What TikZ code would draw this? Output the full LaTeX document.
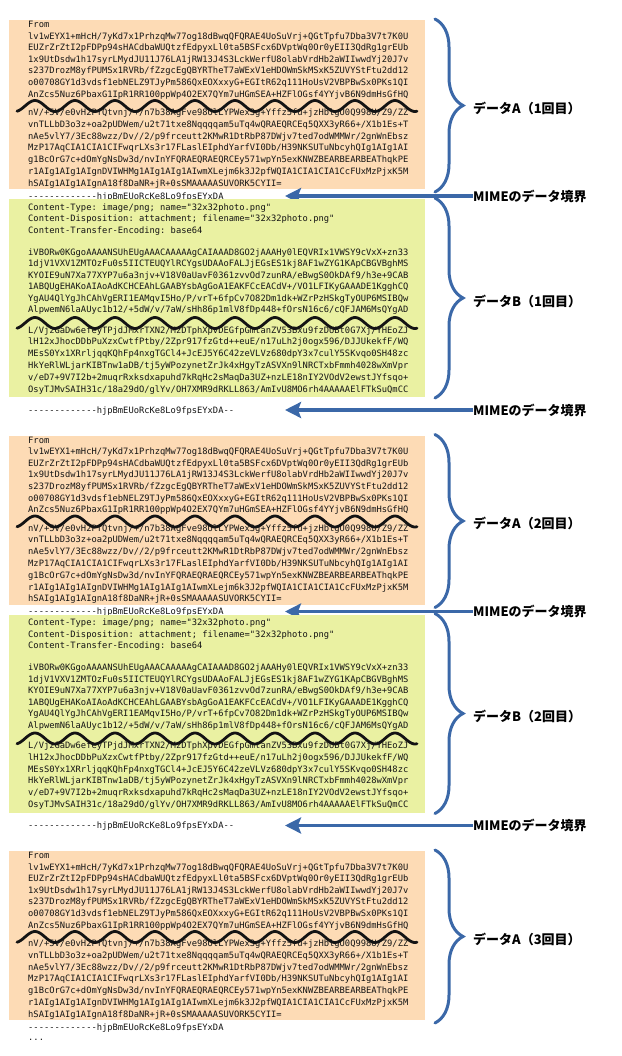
\documentclass[tikz,border=0pt]{standalone}
\usepackage{fontspec}
\setmonofont{DejaVu Sans Mono}
\newfontfamily\jpfont{Noto Sans CJK JP}
\usetikzlibrary{decorations.pathreplacing, arrows.meta}
\definecolor{peach}{RGB}{253,219,181}
\definecolor{lime}{RGB}{234,241,162}
\definecolor{mblue}{RGB}{59,104,168}
\definecolor{ink}{RGB}{20,20,20}

% one run of code lines: #1 name prefix, #2 first baseline, #3 line spacing, #4 lines
\newcommand\codeseg[4]{%
  \foreach \t [count=\i] in {#4} {
    \node[codeline] (#1-\i) at (28,{#2+(\i-1)*#3}) {\t};
  }%
}
\newcommand\waveat[1]{%
  \draw[wavy] plot[domain=17:417, samples=241] (\x,{#1+5.5*cos(9*(\x-15))});%
}
% boundary line with arrow: #1 baseline, #2 prefix, #3 text, #4 arrow y
\newcommand\bndmark[4]{%
  \node[codeline] (#2txt) at (28,#1) {#3};
  \coordinate (#2tip) at (285,#4);
  \node[sidelabel] (#2lab) at (473,#4) {MIMEのデータ境界};
  \draw[arr] (#2lab.west) -- (#2tip);
}
% data A block: #1 offset, #2 prefix, #3 label
\newcommand\blockA[3]{%
  \node[panel, fill=peach, minimum height=169bp] (#2box) at (9,{20+#1}) {};
  \codeseg{#2t}{27.5+#1}{11.6}{From,
lv1wEYX1+mHcH/7yKd7x1PrhzqMw77og18dBwqQFQRAE4UoSuVrj+QGtTpfu7Dba3V7t7K0U,
EUZrZrZtI2pFDPp94sHACdbaWUQtzfEdpyxLl0ta5BSFcx6DVptWq0Or0yEII3QdRg1grEUb,
1x9UtDsdw1h17syrLMydJU11J76LA1jRW13J4S3LckWerfU8olabVrdHb2aWIIwwdYj20J7v,
s237DrozM8yfPUMSx1RVRb/fZzgcEgQBYRTheT7aWExV1eHDOWmSkMSxK5ZUVYStFtu2dd12,
o00708GY1d3vdsf1ebNELZ9TJyPm586QxEOXxxyG+EGItR62q111HoUsV2VBPBwSx0PKs1QI,
AnZcs5Nuz6PbaxG1IpR1RR100ppWp4O2EX7QYm7uHGmSEA+HZFlOGsf4YYjvB6N9dmHsGfHQ}
  \codeseg{#2u}{115.5+#1}{11.8}{nV/+5V/e0vH2PfQtvnj/+/n7b38AgFve98UlLYPWex3g+Yffz5fu+jzHblgU0Q998U/Z9/ZZ,
vnTLLbD3o3z+oa2pUDWem/u2t71txe8Nqqqqam5uTq4wQRAEQRCEq5QXX3yR66+/X1b1Es+T,
nAe5vlY7/3Ec88wzz/Dv//2/p9frceutt2KMwR1DtRbP87DWjv7ted7odWMMWr/2gnWnEbsz,
MzP17AqCIA1CIA1CIFwqrLXs3r17FLaslEIphdYarfVI0Db/H39NKSUTuNbcyhQIg1AIg1AI,
g1BcOrG7c+dOmYgNsDw3d/nvInYFQRAEQRAEQRCEy571wpYn5exKNWZBEARBEARBEAThqkPE,
r1AIg1AIg1AIgnDVIWHMg1AIg1AIg1AIwmXLejm6k3J2pfWQIA1CIA1CIA1CcFUxMzPjxK5M,
hSAIg1AIg1AIgnA18f8DaNR+jR+0sSMAAAAASUVORK5CYII=}
  \waveat{106+#1}
  \draw[curly] (435,{19+#1}) -- (435,{192+#1});
  \node[sidelabel] (#2lab) at (473,{108+#1}) {#3};
}
% data B block: #1 offset, #2 prefix, #3 label
\newcommand\blockB[3]{%
  \node[panel, fill=lime, minimum height=198bp] (#2box) at (9,{199+#1}) {};
  \codeseg{#2h}{210+#1}{11.5}{Content-Type: image/png; name="32x32photo.png",
Content-Disposition: attachment; filename="32x32photo.png",
Content-Transfer-Encoding: base64}
  \codeseg{#2t}{255+#1}{11.5}{iVBORw0KGgoAAAANSUhEUgAAACAAAAAgCAIAAAD8GO2jAAAHy0lEQVRIx1VWSY9cVxX+zn33,
1djV1VXV1ZMTOzFu0s5IICTEUQYlRCYgsUDAAoFALJjEGsES1kj8AF1wZYG1KApCBGVBghMS,
KYOIE9uN7Xa77XYP7u6a3njv+V18V0aUavF0361zvvOd7zunRA/eBwgS0OkDAf9/h3e+9CAB,
1ABQUgEHAKoAIAoAdKCHCEAhLGAABYsbAgGoA1EAKFCcEACdV+/VO1LFIKyGAAADE1KgghCQ,
YgAU4QlYgJhCAhVgERI1EAMqvI5Ho/P/vrT+6fpCv7O82Dm1dk+WZrPzHSkgTyOUP6MSIBQw,
AlpwemN6laAUyc1b12/+5dW/v/7aW/sHh86p1mlV8fDp448+fOrsN16c6/cQFJAM6MsQYgAD}
  \codeseg{#2u}{333+#1}{11.8}{L/VjzGaDw6efeyTPjdJMxrTXN2/MzDTphXpvDEGfpGmtanZV53Bxu9fzDUBt0G7Xj/YHEoZJ,
lH12xJhocDDbPuXzxCwtfPtby/2Zpr917fzGtd++euE/n17uLh2j0ogx596/DJJUkekfF/WQ,
MEsS0Yx1XRrljqqKQhFp4nxgTGCl4+JcEJ5Y6C42zeVLVz680dpY3x7culY5SKvqo0SH48zc,
HkYeRlWLjarKIBTnw1aDB/tj5yWPozynetZrJk4xHgyTzASVXn9lNRCTxbFmmh4028wXmVpr,
v/eD7+9V7I2b+2muqrRxksdxapuhd7kRqHc2sMaqDa3UZ+nzLE18nIY2VOdV2ewstJYfsqo+,
OsyTJMvSAIH31c/18a29dO/glYv/OH7XMR9dRKLL863/AmIvU8MO6rh4AAAAAElFTkSuQmCC}
  \waveat{323+#1}
  \draw[curly] (435,{198+#1}) -- (435,{398+#1});
  \node[sidelabel] (#2lab) at (473,{301+#1}) {#3};
}

\begin{document}
\begin{tikzpicture}[x=1bp, y=-1bp,
  codeline/.style={anchor=base west, inner sep=0pt, text=ink,
    font=\ttfamily\fontsize{8.77bp}{10bp}\selectfont},
  panel/.style={anchor=north west, inner sep=0pt, draw=none, minimum width=416bp},
  wavy/.style={draw=ink, line width=2.8bp, line cap=round, line join=round},
  curly/.style={draw=mblue, line width=3bp, line cap=round,
    decorate, decoration={brace, amplitude=28bp}},
  sidelabel/.style={anchor=west, inner sep=0pt, text=black,
    font=\jpfont\bfseries\fontsize{13bp}{15bp}\selectfont},
  arr/.style={draw=mblue, line width=3.3bp,
    -{Stealth[length=16bp, width=16bp, inset=3bp]}}
]
\useasboundingbox (0,0) rectangle (622,1056);

\blockA{0}{aone}{データA（1回目）}
\bndmark{199}{mone}{-------------hjpBmEUoRcKe8Lo9fpsEYxDA}{196}
\blockB{0}{bone}{データB（1回目）}
\bndmark{413}{mtwo}{-------------hjpBmEUoRcKe8Lo9fpsEYxDA--}{410}

\blockA{415.5}{atwo}{データA（2回目）}
\bndmark{614.5}{mthree}{-------------hjpBmEUoRcKe8Lo9fpsEYxDA}{611.5}
\blockB{415.5}{btwo}{データB（2回目）}
\bndmark{828.5}{mfour}{-------------hjpBmEUoRcKe8Lo9fpsEYxDA--}{825.5}

\blockA{831}{athree}{データA（3回目）}
\node[codeline] (lastbnd) at (28,1030) {-------------hjpBmEUoRcKe8Lo9fpsEYxDA};
\node[codeline] (dots) at (28,1040) {...};
\end{tikzpicture}
\end{document}
